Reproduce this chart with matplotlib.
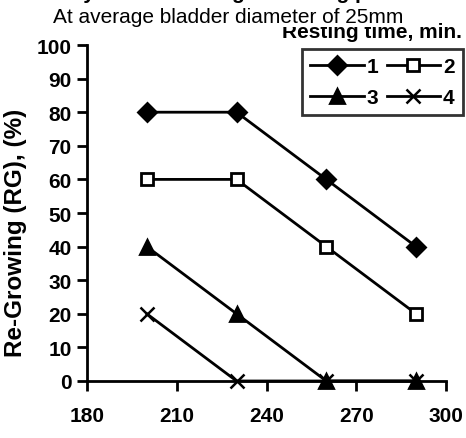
import matplotlib
matplotlib.use("Agg")
import matplotlib.pyplot as plt
from matplotlib.lines import Line2D

# data
resting_time = [200, 230, 260, 290]
series_labels = ["1", "2", "3", "4"]
rg_1 = [80, 80, 60, 40]
rg_2 = [60, 60, 40, 20]
rg_3 = [40, 20, 0, 0]
rg_4 = [20, 0, 0, 0]
x_ticks = [180, 210, 240, 270, 300]
y_ticks = list(range(0, 101, 10))

plt.rcParams["font.family"] = ["Liberation Sans", "DejaVu Sans"]

W, H = 466, 439
fig = plt.figure(figsize=(W / 100, H / 100), dpi=100)
ax = fig.add_axes([87 / W, 1 - 382 / H, (446 - 87) / W, (382 - 46) / H])

series = [rg_1, rg_2, rg_3, rg_4]
markers = ["D", "s", "^", "x"]
faces = ["black", "white", "black", "black"]
sizes = [9, 9, 10, 10]
for vals, lab, m, fc, ms in zip(series, series_labels, markers, faces, sizes):
    ax.plot(resting_time, vals, color="black", lw=2, marker=m, ms=ms,
            mfc=fc, mec="black", mew=2 if m != "x" else 1.8, label=lab,
            clip_on=False, zorder=3)

ax.set_xlim(180, 300)
ax.set_ylim(0, 100)
ax.set_xticks(x_ticks)
ax.set_yticks(y_ticks)
for s in ["top", "right"]:
    ax.spines[s].set_visible(False)
for s in ["left", "bottom"]:
    ax.spines[s].set_linewidth(2)
ax.tick_params(axis="both", width=2, length=7, direction="out")
ax.tick_params(axis="x", pad=11)
ax.tick_params(axis="y", pad=4)
for t in ax.get_xticklabels() + ax.get_yticklabels():
    t.set_fontweight("bold")
    t.set_fontsize(15)

fig.text(16 / W, 1 - 233 / H, "Re-Growing (RG), (%)", rotation=90,
         ha="center", va="center", fontsize=17.5, fontweight="bold")

# legend, filled row by row: 1 2 / 3 4
handles = [Line2D([], [], color="black", lw=2, marker=m, ms=ms, mfc=fc,
                  mec="black", mew=2 if m != "x" else 1.8)
           for m, fc, ms in zip(markers, faces, sizes)]
order = [0, 2, 1, 3]
leg = fig.legend([handles[i] for i in order], [series_labels[i] for i in order],
                 ncol=2, loc="upper right",
                 bbox_to_anchor=(463 / W, 1 - 50 / H), frameon=True,
                 fancybox=False, edgecolor="black", handlelength=2.55,
                 handletextpad=0.15, columnspacing=0.4, labelspacing=0.55,
                 borderpad=0.4, borderaxespad=0,
                 prop={"weight": "bold", "size": 15})
leg.get_frame().set_linewidth(2)

fig.text(462 / W, 1 - 38 / H, "Resting time, min.", ha="right",
         va="baseline", fontsize=15, fontweight="bold", zorder=1)
fig.text(0.5 - 5 / W, 1 - 23 / H, "At average bladder diameter of 25mm",
         ha="center", va="baseline", fontsize=15, zorder=5,
         bbox=dict(facecolor="white", edgecolor="none", pad=1.0))
fig.text(-4 / W, 1 + 1 / H, "Efficiency of Re-Growing vs resting period",
         ha="left", va="baseline", fontsize=15, fontweight="bold")

fig.savefig("out.png", dpi=100)
